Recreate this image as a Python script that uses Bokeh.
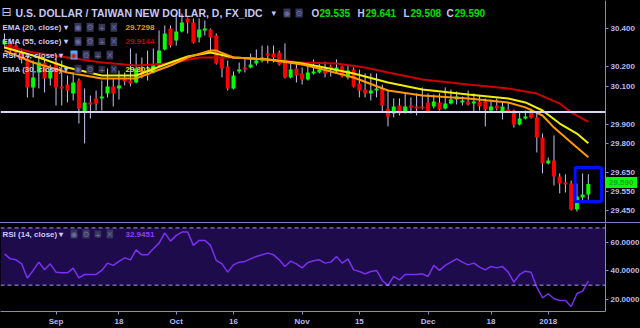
import pandas as pd
from bokeh.plotting import figure
from bokeh.models import (Range1d, FixedTicker, NumeralTickFormatter, Span, Label,
                          BoxAnnotation, Div, ColumnDataSource)
from bokeh.layouts import column
from bokeh.embed import file_html
from bokeh.resources import INLINE

# ---------------- data ----------------
dates = [d for d in pd.bdate_range("2017-08-21", "2018-01-11") if d != pd.Timestamp("2018-01-01")]

opens = [30.317, 30.322, 30.311, 30.275, 30.244, 30.093, 30.171, 30.223, 30.140, 30.223,
         30.098, 30.108, 30.062, 30.129, 29.963, 30.015, 30.036, 30.036, 30.062, 30.098,
         30.088, 30.134, 30.129, 30.119, 30.171, 30.166, 30.171, 30.207, 30.291, 30.400,
         30.337, 30.384, 30.452, 30.431, 30.353, 30.390, 30.395, 30.364, 30.244, 30.202,
         30.088, 30.176, 30.197, 30.197, 30.218, 30.233, 30.270, 30.270, 30.275, 30.239,
         30.145, 30.192, 30.166, 30.134, 30.166, 30.171, 30.192, 30.202, 30.176, 30.202,
         30.145, 30.186, 30.114, 30.082, 30.062, 30.077, 30.088, 29.983, 29.957, 29.999,
         29.963, 29.999, 29.994, 29.994, 30.015, 29.994, 30.015, 29.983, 30.009, 30.030,
         30.015, 30.020, 30.009, 30.020, 30.020, 29.973, 29.999, 29.968, 29.978, 29.973,
         29.900, 29.931, 29.963, 29.937, 29.832, 29.697, 29.712, 29.629, 29.598, 29.593,
         29.457, 29.520, 29.535]
highs = [30.374, 30.348, 30.337, 30.296, 30.259, 30.233, 30.259, 30.244, 30.212, 30.244,
         30.233, 30.155, 30.171, 30.140, 30.088, 30.051, 30.077, 30.129, 30.192, 30.140,
         30.181, 30.171, 30.296, 30.270, 30.249, 30.285, 30.296, 30.390, 30.416, 30.416,
         30.478, 30.478, 30.457, 30.452, 30.452, 30.442, 30.400, 30.374, 30.259, 30.233,
         30.176, 30.223, 30.244, 30.270, 30.291, 30.311, 30.311, 30.311, 30.285, 30.322,
         30.223, 30.223, 30.197, 30.223, 30.239, 30.223, 30.228, 30.212, 30.239, 30.207,
         30.212, 30.197, 30.186, 30.166, 30.166, 30.166, 30.108, 30.082, 30.036, 30.036,
         30.062, 30.041, 30.062, 30.093, 30.062, 30.056, 30.062, 30.093, 30.082, 30.072,
         30.046, 30.077, 30.062, 30.051, 30.036, 30.030, 30.036, 30.015, 30.015, 29.978,
         29.963, 29.973, 29.983, 29.963, 29.853, 29.728, 29.843, 29.645, 29.640, 29.608,
         29.593, 29.645, 29.641]
lows = [30.296, 30.270, 30.259, 30.218, 30.041, 30.041, 30.088, 30.067, 30.103, 29.999,
        29.999, 30.015, 30.025, 29.905, 29.801, 29.931, 29.973, 29.973, 30.041, 29.994,
        30.030, 30.103, 30.098, 30.114, 30.140, 30.129, 30.166, 30.202, 30.286, 30.301,
        30.311, 30.379, 30.374, 30.322, 30.327, 30.364, 30.275, 30.212, 30.145, 30.077,
        30.083, 30.166, 30.171, 30.192, 30.207, 30.223, 30.218, 30.223, 30.207, 30.140,
        30.140, 30.119, 30.108, 30.129, 30.160, 30.166, 30.145, 30.150, 30.166, 30.145,
        30.134, 30.093, 30.041, 30.041, 30.025, 30.041, 29.968, 29.890, 29.937, 29.947,
        29.957, 29.957, 29.947, 29.978, 29.963, 29.983, 29.973, 29.978, 30.004, 30.004,
        29.999, 29.999, 29.963, 29.973, 29.890, 29.968, 29.973, 29.926, 29.963, 29.884,
        29.895, 29.926, 29.931, 29.754, 29.645, 29.692, 29.582, 29.541, 29.546, 29.452,
        29.447, 29.494, 29.508]
closes = [30.337, 30.285, 30.275, 30.244, 30.093, 30.145, 30.223, 30.140, 30.181, 30.093,
          30.088, 30.077, 30.119, 29.983, 30.015, 30.004, 30.009, 30.046, 30.098, 30.062,
          30.103, 30.124, 30.114, 30.192, 30.155, 30.155, 30.212, 30.285, 30.374, 30.311,
          30.384, 30.431, 30.431, 30.327, 30.395, 30.400, 30.353, 30.218, 30.192, 30.088,
          30.155, 30.186, 30.186, 30.212, 30.233, 30.249, 30.259, 30.249, 30.212, 30.145,
          30.186, 30.155, 30.134, 30.171, 30.176, 30.186, 30.166, 30.192, 30.197, 30.150,
          30.181, 30.098, 30.077, 30.062, 30.077, 30.088, 29.999, 29.942, 29.994, 29.957,
          29.994, 29.989, 29.983, 29.983, 29.968, 30.020, 29.978, 30.009, 30.030, 30.046,
          30.025, 30.004, 30.020, 29.994, 29.978, 29.994, 29.983, 29.994, 29.968, 29.900,
          29.931, 29.942, 29.937, 29.832, 29.697, 29.712, 29.629, 29.593, 29.588, 29.457,
          29.525, 29.535, 29.590]

rsi = [51.9, 48.4, 47.7, 44.9, 34.9, 40.3, 46.1, 40.8, 44.9, 39.1,
       38.6, 38.6, 41.9, 35.1, 37.5, 37.5, 37.5, 40.3, 45.4, 43.8,
       46.6, 49.1, 47.7, 54.7, 51.2, 51.2, 55.4, 59.4, 66.6, 60.8,
       64.8, 67.1, 67.1, 57.8, 61.3, 61.3, 57.8, 47.3, 44.9, 39.1,
       44.2, 46.1, 46.6, 48.4, 50.1, 51.2, 52.4, 51.2, 47.7, 43.1,
       46.8, 44.9, 42.1, 45.9, 47.0, 47.7, 45.4, 46.1, 50.1, 45.4,
       48.4, 40.7, 39.6, 37.9, 39.6, 40.3, 33.3, 29.8, 36.1, 33.7,
       37.5, 37.5, 37.5, 37.9, 36.1, 43.8, 40.3, 43.8, 46.1, 48.4,
       46.1, 44.2, 45.4, 42.6, 40.7, 43.1, 42.1, 43.1, 39.1, 32.1,
       37.5, 39.8, 39.1, 28.6, 21.2, 24.0, 20.5, 19.3, 19.3, 15.1,
       24.0, 25.8, 32.9]

# EMA read at sample bars (bar number, value)
ema55_idx = [0, 5, 11, 17, 23, 29, 34, 40, 46, 52, 58, 63, 67, 73, 81, 88, 93, 97, 99, 102]
ema55 = [30.311, 30.275, 30.249, 30.223, 30.207, 30.218, 30.249, 30.249, 30.239, 30.223,
         30.218, 30.197, 30.171, 30.134, 30.108, 30.088, 30.061, 30.009, 29.963, 29.914]
ema30_idx = [0, 5, 11, 17, 23, 29, 32, 36, 40, 46, 52, 55, 61, 67, 73, 81, 88, 91, 94, 97, 100, 102]
ema30 = [30.301, 30.259, 30.197, 30.155, 30.155, 30.223, 30.254, 30.275, 30.249, 30.239,
         30.218, 30.202, 30.166, 30.119, 30.082, 30.056, 30.035, 30.015, 29.973, 29.905,
         29.853, 29.802]
ema20_idx = [0, 5, 11, 17, 23, 29, 32, 36, 37, 40, 46, 52, 55, 61, 67, 73, 81, 88, 91, 94, 96, 99, 102]
ema20 = [30.285, 30.223, 30.171, 30.140, 30.140, 30.207, 30.249, 30.285, 30.285, 30.249,
         30.239, 30.212, 30.192, 30.145, 30.077, 30.051, 30.035, 30.015, 29.989, 29.947,
         29.884, 29.806, 29.730]

hline_price = 29.965
box_left, box_right, box_top, box_bottom = 99.7, 104.3, 29.676, 29.499
last_price = "29.590"

price_ticks = [30.4, 30.2, 30.1, 29.9, 29.8, 29.65, 29.55, 29.45]
rsi_ticks = [20, 40, 60]
tick_dates = ["2017-09-01", "2017-09-18", "2017-10-02", "2017-10-16", "2017-11-01",
              "2017-11-15", "2017-12-01", "2017-12-18", "2018-01-02"]
tick_labels = ["Sep", "18", "Oct", "16", "Nov", "15", "Dec", "18", "2018"]

# ---------------- styling ----------------
LAV = "#c8c8f8"
AXC = "#8888d0"
UP, DN = "#00ff00", "#ff0000"
WICK = "#c4c4f0"
FONT = "Liberation Sans"

idx = list(range(len(dates)))
date_pos = {d.strftime("%Y-%m-%d"): i for i, d in enumerate(dates)}
tick_idx = [date_pos[d] for d in tick_dates]

src = ColumnDataSource(dict(
    i=idx, o=opens, h=highs, l=lows, c=closes,
    top=[max(a, b) for a, b in zip(opens, closes)],
    bottom=[min(a, b) for a, b in zip(opens, closes)],
    color=[UP if c >= o else DN for o, c in zip(opens, closes)],
))

xr = Range1d(-0.7, 105.0)

top = figure(frame_width=605, frame_height=222, x_range=xr, y_range=Range1d(29.3896, 30.5458),
             x_axis_location=None, y_axis_location="right", toolbar_location=None,
             output_backend="svg", min_border_left=0, min_border_right=35,
             min_border_top=0, min_border_bottom=0, background_fill_color="#000000",
             border_fill_color="#000000", outline_line_color=None)
top.grid.visible = False
ya = top.yaxis[0]
ya.ticker = FixedTicker(ticks=price_ticks)
ya.formatter = NumeralTickFormatter(format="0.000")
for ax in [ya]:
    ax.axis_line_color = AXC
    ax.major_tick_line_color = AXC
    ax.minor_tick_line_color = None
    ax.major_tick_out = 3
    ax.major_tick_in = 0
    ax.major_label_standoff = 2
    ax.major_label_text_color = "#b8b8f0"
    ax.major_label_text_font_size = "8px"
    ax.major_label_text_font_style = "bold"
    ax.major_label_text_font = FONT

top.add_layout(Span(location=hline_price, dimension="width", line_color="#d8d8f4", line_width=2))
top.segment(x0="i", y0="h", x1="i", y1="l", source=src, line_color=WICK, line_width=1)
top.vbar(x="i", width=0.7, top="top", bottom="bottom", fill_color="color", line_color=None, source=src)
top.line(ema55_idx, ema55, line_color="#cc0000", line_width=2)
top.line(ema30_idx, ema30, line_color="#f0f000", line_width=2)
top.line(ema20_idx, ema20, line_color="#ff9900", line_width=2)
top.quad(left=[box_left], right=[box_right], top=[box_top], bottom=[box_bottom],
         fill_color=None, line_color="#0010ff", line_width=3)


def lab(p, H, x, Y, text, color, size="8px", bold=True, bg=None, font=FONT):
    p.add_layout(Label(x=x, y=H - Y, x_units="screen", y_units="screen", text=text,
                       text_color=color, text_font_size=size,
                       text_font_style="bold" if bold else "normal",
                       text_baseline="middle", text_align="left", text_font=font,
                       background_fill_color=bg))


H1 = 222
lab(top, H1, 1, 11.5, "⊟", LAV, size="12px", bold=False, font="DejaVu Sans")
lab(top, H1, 15, 12.5, "U.S. DOLLAR / TAIWAN NEW DOLLAR, D, FX_IDC", LAV, size="10.5px")
lab(top, H1, 271, 12.5, "▾", LAV, size="9px", bold=False, font="DejaVu Sans")
lab(top, H1, 283, 12.5, "◉", "#6a6a9a", size="8px", bold=False, bg="#35355a", font="DejaVu Sans")
lab(top, H1, 295, 12.5, "⚙", "#6a6a9a", size="8px", bold=False, bg="#35355a", font="DejaVu Sans")
ohlc = [("O", 311), ("29.535", 319), ("H", 357), ("29.641", 365),
        ("L", 403), ("29.508", 410), ("C", 446), ("29.590", 454)]
for t, x in ohlc:
    lab(top, H1, x, 12.5, t, LAV if t.isalpha() else "#00e000", size="10px")

rows = [("EMA (20, close)", 26.7, "29.7298", "#f09a00", "#35355a"),
        ("EMA (55, close)", 41.0, "29.9144", "#c80000", "#35355a"),
        ("RSI (14, close)", 54.5, "", "", "#35355a"),
        ("EMA (30, close)", 68.7, "29.8022", "#e8e800", "#2a2a44")]
for name, Y, val, vc, bg in rows:
    lab(top, H1, 2, Y, name + " ▾", LAV, size="8px")
    x0 = 70 if name.startswith("RSI") else 74
    for k, g in enumerate(["◉", "⚙", "+", "×"]):
        b = bg
        tc = "#6a6a9a"
        if name.startswith("RSI") and k == 0:
            b, tc = "#55aaff", "#cc2222"
        lab(top, H1, x0 + 12 * k, Y, g, tc, size="8px", bold=False, bg=b, font="DejaVu Sans")
    if val:
        lab(top, H1, 125, Y, val, vc, size="8px")

# ---------------- RSI panel ----------------
bot = figure(frame_width=605, frame_height=88, x_range=xr, y_range=Range1d(11.6, 73.1),
             y_axis_location="right", toolbar_location=None, output_backend="svg",
             min_border_left=0, min_border_right=35, min_border_top=0, min_border_bottom=0,
             background_fill_color="#000000", border_fill_color="#000000", outline_line_color=None)
bot.grid.visible = False
bot.add_layout(BoxAnnotation(bottom=30, top=70, fill_color="#1e0b4c", fill_alpha=1,
                             line_color=None, level="underlay"))
for lv in [70, 30]:
    bot.add_layout(Span(location=lv, dimension="width", line_color="#a898e8",
                        line_width=1, line_dash="4 3"))
bot.line(idx, rsi, line_color="#7a30f0", line_width=1.5)

ry = bot.yaxis[0]
ry.ticker = FixedTicker(ticks=rsi_ticks)
ry.formatter = NumeralTickFormatter(format="0.0000")
bx = bot.xaxis[0]
bx.ticker = FixedTicker(ticks=tick_idx)
bx.major_label_overrides = {i: t for i, t in zip(tick_idx, tick_labels)}
for ax in [ry, bx]:
    ax.axis_line_color = AXC
    ax.major_tick_line_color = AXC
    ax.minor_tick_line_color = None
    ax.major_tick_out = 3
    ax.major_tick_in = 0
    ax.major_label_standoff = 2
    ax.major_label_text_color = "#b8b8f0"
    ax.major_label_text_font_size = "8px"
    ax.major_label_text_font_style = "bold"
    ax.major_label_text_font = FONT

H2 = 88
lab(bot, H2, 2, 10.5, "RSI (14, close) ▾", LAV, size="8px")
for k, g in enumerate(["◉", "⚙", "+", "×"]):
    lab(bot, H2, 70 + 12 * k, 10.5, g, "#6a6a9a", size="8px", bold=False, bg="#35355a", font="DejaVu Sans")
lab(bot, H2, 125, 10.5, "32.9451", "#8a40ff", size="8px")

sep = Div(text="", width=640, height=1, margin=0, styles={"background-color": "#8080c8"})

# last-price tag on the price scale (sits over the axis area)
tag = Div(text=last_price, width=32, height=11, margin=0,
          styles={"position": "absolute", "left": "605px", "top": "177px",
                  "background-color": "#00ff00", "color": "#2a9a2a",
                  "font": "bold 8px 'Liberation Sans'", "line-height": "11px",
                  "padding-left": "4px", "z-index": "10"})

layout = column(top, sep, bot, tag, spacing=0)
layout.styles = {"background-color": "#000000", "position": "relative"}
open("out.html", "w").write(file_html(layout, INLINE))
